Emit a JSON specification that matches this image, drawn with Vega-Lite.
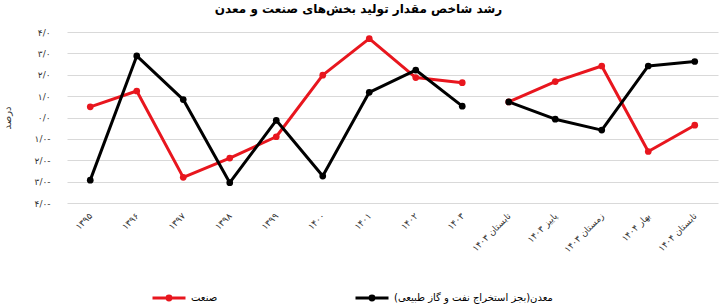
{
  "$schema": "https://vega.github.io/schema/vega-lite/v6.json",
  "width": 651,
  "height": 171,
  "autosize": {"type": "none"},
  "padding": {"left": 67, "top": 32, "right": 2, "bottom": 103},
  "background": "white",
  "config": {"font": "DejaVu Sans", "view": {"stroke": null}},
  "title": {"text": "رشد شاخص مقدار تولید بخش‌های صنعت و معدن", "fontSize": 12, "fontWeight": "bold", "anchor": "middle", "dx": -34, "offset": 12, "color": "#000"},
  "data": {"values": [
    {"period": "۱۳۹۵", "series": "صنعت", "seg": "annual", "value": 0.5},
    {"period": "۱۳۹۶", "series": "صنعت", "seg": "annual", "value": 1.24},
    {"period": "۱۳۹۷", "series": "صنعت", "seg": "annual", "value": -2.8},
    {"period": "۱۳۹۸", "series": "صنعت", "seg": "annual", "value": -1.9},
    {"period": "۱۳۹۹", "series": "صنعت", "seg": "annual", "value": -0.9},
    {"period": "۱۴۰۰", "series": "صنعت", "seg": "annual", "value": 1.98},
    {"period": "۱۴۰۱", "series": "صنعت", "seg": "annual", "value": 3.69},
    {"period": "۱۴۰۲", "series": "صنعت", "seg": "annual", "value": 1.87},
    {"period": "۱۴۰۳", "series": "صنعت", "seg": "annual", "value": 1.63},
    {"period": "تابستان ۱۴۰۳", "series": "صنعت", "seg": "quarterly", "value": 0.73},
    {"period": "پاییز ۱۴۰۳", "series": "صنعت", "seg": "quarterly", "value": 1.68},
    {"period": "زمستان ۱۴۰۳", "series": "صنعت", "seg": "quarterly", "value": 2.41},
    {"period": "بهار ۱۴۰۴", "series": "صنعت", "seg": "quarterly", "value": -1.59},
    {"period": "تابستان ۱۴۰۴", "series": "صنعت", "seg": "quarterly", "value": -0.36},
    {"period": "۱۳۹۵", "series": "معدن(بجز استخراج نفت و گاز طبیعی)", "seg": "annual", "value": -2.93},
    {"period": "۱۳۹۶", "series": "معدن(بجز استخراج نفت و گاز طبیعی)", "seg": "annual", "value": 2.88},
    {"period": "۱۳۹۷", "series": "معدن(بجز استخراج نفت و گاز طبیعی)", "seg": "annual", "value": 0.84},
    {"period": "۱۳۹۸", "series": "معدن(بجز استخراج نفت و گاز طبیعی)", "seg": "annual", "value": -3.05},
    {"period": "۱۳۹۹", "series": "معدن(بجز استخراج نفت و گاز طبیعی)", "seg": "annual", "value": -0.13},
    {"period": "۱۴۰۰", "series": "معدن(بجز استخراج نفت و گاز طبیعی)", "seg": "annual", "value": -2.74},
    {"period": "۱۴۰۱", "series": "معدن(بجز استخراج نفت و گاز طبیعی)", "seg": "annual", "value": 1.18},
    {"period": "۱۴۰۲", "series": "معدن(بجز استخراج نفت و گاز طبیعی)", "seg": "annual", "value": 2.22},
    {"period": "۱۴۰۳", "series": "معدن(بجز استخراج نفت و گاز طبیعی)", "seg": "annual", "value": 0.53},
    {"period": "تابستان ۱۴۰۳", "series": "معدن(بجز استخراج نفت و گاز طبیعی)", "seg": "quarterly", "value": 0.73},
    {"period": "پاییز ۱۴۰۳", "series": "معدن(بجز استخراج نفت و گاز طبیعی)", "seg": "quarterly", "value": -0.08},
    {"period": "زمستان ۱۴۰۳", "series": "معدن(بجز استخراج نفت و گاز طبیعی)", "seg": "quarterly", "value": -0.59},
    {"period": "بهار ۱۴۰۴", "series": "معدن(بجز استخراج نفت و گاز طبیعی)", "seg": "quarterly", "value": 2.41},
    {"period": "تابستان ۱۴۰۴", "series": "معدن(بجز استخراج نفت و گاز طبیعی)", "seg": "quarterly", "value": 2.62}
  ]},
  "mark": {"type": "line", "strokeWidth": 3, "strokeJoin": "round", "point": {"size": 45, "filled": true, "opacity": 1}},
  "encoding": {
    "x": {"field": "period", "type": "ordinal", "sort": null, "scale": {"padding": 0.5},
      "axis": {"title": null, "labelAngle": -45, "labelAlign": "right", "labelBaseline": "middle", "labelPadding": 11, "domain": false, "ticks": false, "grid": false, "labelFontSize": 9, "labelColor": "#333", "labelLimit": 200}},
    "y": {"field": "value", "type": "quantitative", "scale": {"domain": [-4, 4], "nice": false, "zero": false},
      "axis": {"title": "درصد", "titleX": -55, "titleY": 85.5, "titleFontSize": 10, "titleFontWeight": "normal", "titleColor": "#333",
        "values": [-4, -3, -2, -1, 0, 1, 2, 3, 4],
        "labelExpr": "datum.value==4?'۴/۰':datum.value==3?'۳/۰':datum.value==2?'۲/۰':datum.value==1?'۱/۰':datum.value==0?'۰/۰':datum.value==-1?'۱/۰-':datum.value==-2?'۲/۰-':datum.value==-3?'۳/۰-':'۴/۰-'",
        "domain": false, "ticks": false, "labelPadding": 17, "gridColor": "#d9d9d9", "gridWidth": 1, "labelFontSize": 9, "labelColor": "#333"}},
    "color": {"field": "series", "type": "nominal", "sort": null,
      "scale": {"domain": ["صنعت", "معدن(بجز استخراج نفت و گاز طبیعی)"], "range": ["#e8161e", "#000000"]},
      "legend": {"orient": "none", "legendX": 84, "legendY": 248, "direction": "horizontal", "title": null, "padding": 0,
        "symbolType": "M-1,0L1,0M-0.12,0A0.12,0.12,0,1,0,0.12,0A0.12,0.12,0,1,0,-0.12,0",
        "symbolSize": 1089, "symbolStrokeWidth": 3, "labelFontSize": 10, "labelColor": "#000", "columnPadding": 131, "labelLimit": 300,
        "symbolOpacity": 1,
        "encode": {"symbols": {"update": {"fill": {"scale": "color", "field": "value"}, "stroke": {"scale": "color", "field": "value"}}}}}},
    "detail": {"field": "seg", "type": "nominal"}
  }
}
